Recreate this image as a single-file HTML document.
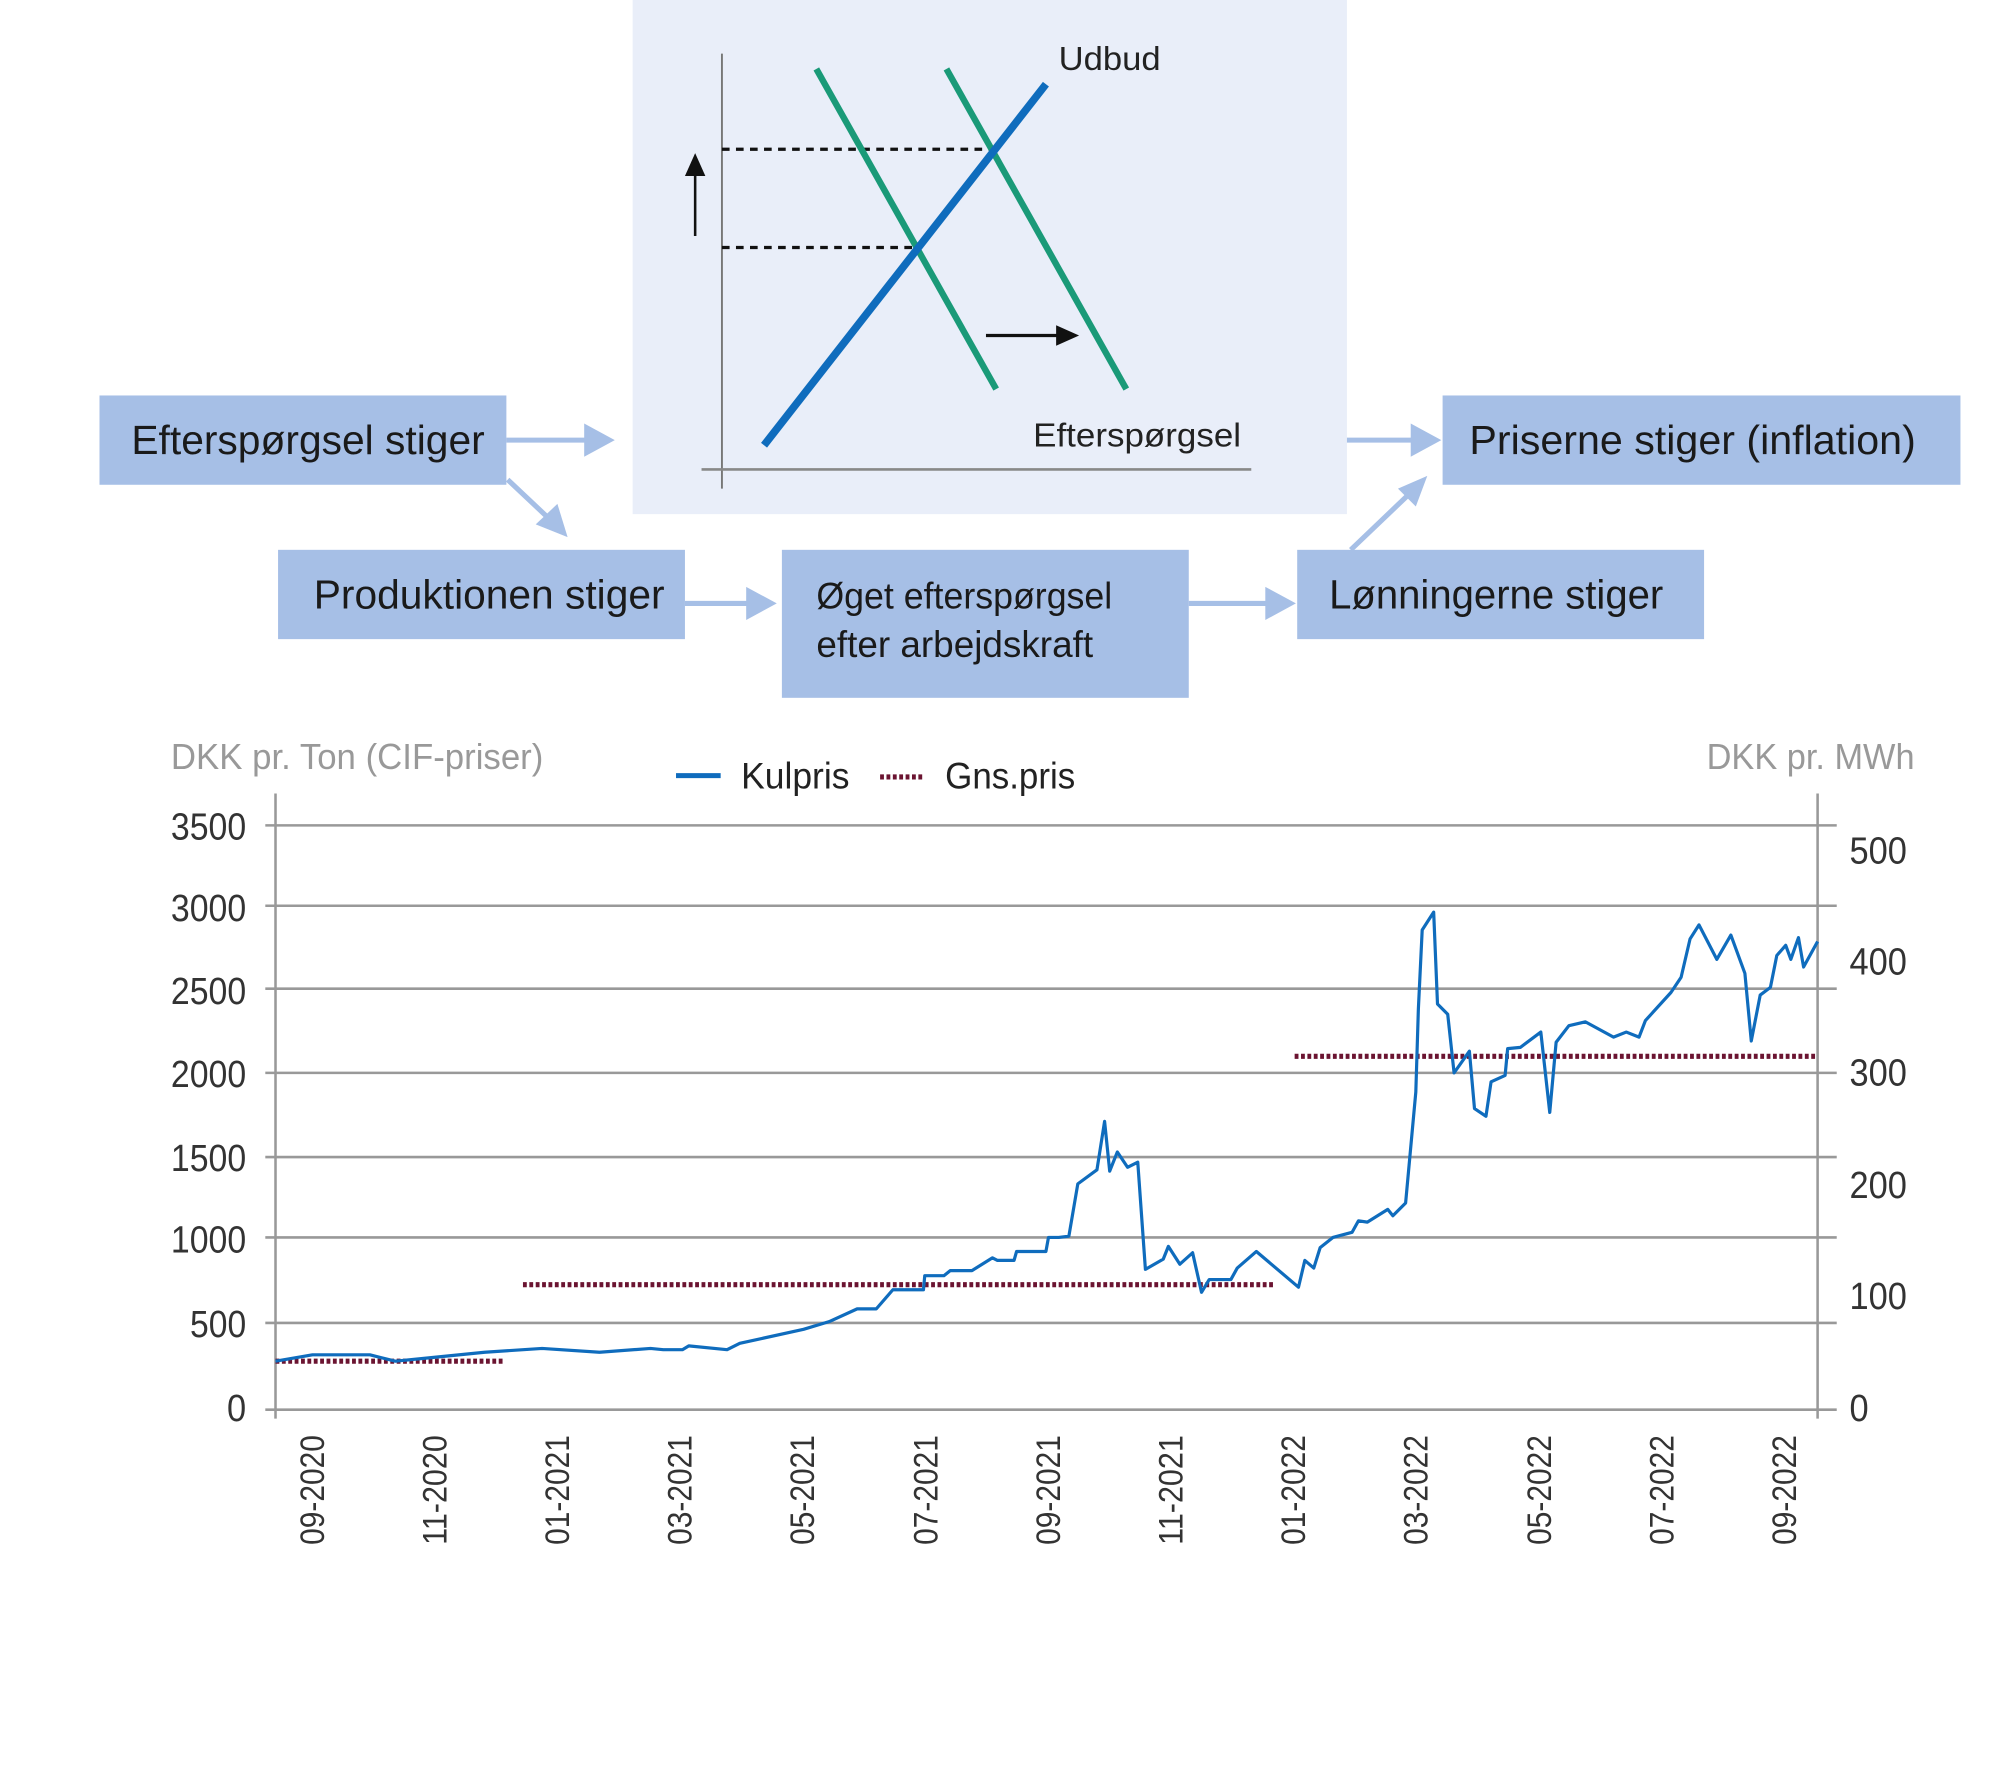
<!DOCTYPE html>
<html><head><meta charset="utf-8"><style>html,body{margin:0;padding:0;background:#fff}svg{display:block}</style></head>
<body>
<svg width="2000" height="1786" viewBox="0 0 1568 1400" preserveAspectRatio="none" xmlns="http://www.w3.org/2000/svg" font-family="Liberation Sans, sans-serif">
<rect width="1568" height="1400" fill="#fff"/>
<rect x="496" y="0" width="560" height="403" fill="#e9eef9"/>
<line x1="566" y1="42" x2="566" y2="383" stroke="#777" stroke-width="1.5"/>
<line x1="550" y1="368" x2="981" y2="368" stroke="#888" stroke-width="2"/>
<line x1="566" y1="117" x2="780" y2="117" stroke="#111" stroke-width="2.5" stroke-dasharray="6,5"/>
<line x1="566" y1="194" x2="718" y2="194" stroke="#111" stroke-width="2.5" stroke-dasharray="6,5"/>
<line x1="640" y1="54" x2="781" y2="305" stroke="#1a9a78" stroke-width="5"/>
<line x1="742" y1="54" x2="883" y2="305" stroke="#1a9a78" stroke-width="5"/>
<line x1="599" y1="349" x2="820" y2="66" stroke="#0f6cbd" stroke-width="6"/>
<line x1="545" y1="185" x2="545" y2="135" stroke="#111" stroke-width="2"/>
<polygon points="545,120 537,138 553,138" fill="#111"/>
<line x1="773" y1="263" x2="830" y2="263" stroke="#111" stroke-width="2.5"/>
<polygon points="846,263 828,255 828,271" fill="#111"/>
<text x="830" y="55" font-size="26" fill="#222" textLength="80" lengthAdjust="spacingAndGlyphs">Udbud</text>
<text x="810" y="350" font-size="26" fill="#222" textLength="163" lengthAdjust="spacingAndGlyphs">Efterspørgsel</text>
<g fill="#a6bfe6">
<rect x="78" y="310" width="319" height="70"/>
<rect x="1131" y="310" width="406" height="70"/>
<rect x="218" y="431" width="319" height="70"/>
<rect x="613" y="431" width="319" height="116"/>
<rect x="1017" y="431" width="319" height="70"/>
</g>
<g font-size="32" fill="#1a1a1a">
<text x="103" y="356" textLength="277" lengthAdjust="spacingAndGlyphs">Efterspørgsel stiger</text>
<text x="1152" y="356" textLength="350" lengthAdjust="spacingAndGlyphs">Priserne stiger (inflation)</text>
<text x="246" y="477" textLength="275" lengthAdjust="spacingAndGlyphs">Produktionen stiger</text>
<text x="1042" y="477" textLength="262" lengthAdjust="spacingAndGlyphs">Lønningerne stiger</text>
</g>
<g font-size="29" fill="#1a1a1a">
<text x="640" y="477" textLength="232" lengthAdjust="spacingAndGlyphs">Øget efterspørgsel</text>
<text x="640" y="515" textLength="217" lengthAdjust="spacingAndGlyphs">efter arbejdskraft</text>
</g>
<g stroke="#a6bfe6" stroke-width="4" fill="#a6bfe6">
<line x1="397" y1="345" x2="462" y2="345"/><polygon points="482,345 458,332 458,358" stroke="none"/>
<line x1="398" y1="376" x2="432" y2="408"/><polygon points="445,421 420,411 437,395" stroke="none"/>
<line x1="537" y1="473" x2="590" y2="473"/><polygon points="609,473 585,460 585,486" stroke="none"/>
<line x1="932" y1="473" x2="996" y2="473"/><polygon points="1016,473 992,460 992,486" stroke="none"/>
<line x1="1056" y1="345" x2="1110" y2="345"/><polygon points="1130,345 1106,332 1106,358" stroke="none"/>
<line x1="1059" y1="431" x2="1104" y2="388"/><polygon points="1119,373 1096,383 1110,397" stroke="none"/>
</g>
<text x="134" y="603" font-size="28" fill="#999" textLength="292" lengthAdjust="spacingAndGlyphs">DKK pr. Ton (CIF-priser)</text>
<text x="1501" y="603" font-size="28" fill="#999" text-anchor="end" textLength="163" lengthAdjust="spacingAndGlyphs">DKK pr. MWh</text>
<line x1="530" y1="608" x2="565" y2="608" stroke="#0f6cbd" stroke-width="4"/>
<text x="581" y="618" font-size="29" fill="#222" textLength="85" lengthAdjust="spacingAndGlyphs">Kulpris</text>
<line x1="690" y1="609" x2="725" y2="609" stroke="#6b1431" stroke-width="4" stroke-dasharray="3,2"/>
<text x="741" y="618" font-size="29" fill="#222" textLength="102" lengthAdjust="spacingAndGlyphs">Gns.pris</text>
<g stroke="#999" stroke-width="2">
<line x1="208" y1="647" x2="1440" y2="647"/>
<line x1="208" y1="710" x2="1440" y2="710"/>
<line x1="208" y1="775" x2="1440" y2="775"/>
<line x1="208" y1="841" x2="1440" y2="841"/>
<line x1="208" y1="907" x2="1440" y2="907"/>
<line x1="208" y1="970" x2="1440" y2="970"/>
<line x1="208" y1="1037" x2="1440" y2="1037"/>
<line x1="208" y1="1105" x2="1440" y2="1105"/>
<line x1="216" y1="622" x2="216" y2="1112"/>
<line x1="1425" y1="622" x2="1425" y2="1112"/>
</g>
<g font-size="30" fill="#333" text-anchor="end">
<text x="193" y="658" textLength="59" lengthAdjust="spacingAndGlyphs">3500</text>
<text x="193" y="722" textLength="59" lengthAdjust="spacingAndGlyphs">3000</text>
<text x="193" y="787" textLength="59" lengthAdjust="spacingAndGlyphs">2500</text>
<text x="193" y="852" textLength="59" lengthAdjust="spacingAndGlyphs">2000</text>
<text x="193" y="918" textLength="59" lengthAdjust="spacingAndGlyphs">1500</text>
<text x="193" y="982" textLength="59" lengthAdjust="spacingAndGlyphs">1000</text>
<text x="193" y="1048" textLength="44" lengthAdjust="spacingAndGlyphs">500</text>
<text x="193" y="1114" textLength="15" lengthAdjust="spacingAndGlyphs">0</text>
</g>
<g font-size="30" fill="#333">
<text x="1450" y="677" textLength="45" lengthAdjust="spacingAndGlyphs">500</text>
<text x="1450" y="764" textLength="45" lengthAdjust="spacingAndGlyphs">400</text>
<text x="1450" y="851" textLength="45" lengthAdjust="spacingAndGlyphs">300</text>
<text x="1450" y="939" textLength="45" lengthAdjust="spacingAndGlyphs">200</text>
<text x="1450" y="1026" textLength="45" lengthAdjust="spacingAndGlyphs">100</text>
<text x="1450" y="1114" textLength="15" lengthAdjust="spacingAndGlyphs">0</text>
</g>
<g font-size="27" fill="#333" text-anchor="end">
<text transform="translate(254,1125) rotate(-90)" textLength="86" lengthAdjust="spacingAndGlyphs">09-2020</text>
<text transform="translate(350,1125) rotate(-90)" textLength="86" lengthAdjust="spacingAndGlyphs">11-2020</text>
<text transform="translate(446,1125) rotate(-90)" textLength="86" lengthAdjust="spacingAndGlyphs">01-2021</text>
<text transform="translate(542,1125) rotate(-90)" textLength="86" lengthAdjust="spacingAndGlyphs">03-2021</text>
<text transform="translate(638,1125) rotate(-90)" textLength="86" lengthAdjust="spacingAndGlyphs">05-2021</text>
<text transform="translate(735,1125) rotate(-90)" textLength="86" lengthAdjust="spacingAndGlyphs">07-2021</text>
<text transform="translate(831,1125) rotate(-90)" textLength="86" lengthAdjust="spacingAndGlyphs">09-2021</text>
<text transform="translate(927,1125) rotate(-90)" textLength="86" lengthAdjust="spacingAndGlyphs">11-2021</text>
<text transform="translate(1023,1125) rotate(-90)" textLength="86" lengthAdjust="spacingAndGlyphs">01-2022</text>
<text transform="translate(1119,1125) rotate(-90)" textLength="86" lengthAdjust="spacingAndGlyphs">03-2022</text>
<text transform="translate(1216,1125) rotate(-90)" textLength="86" lengthAdjust="spacingAndGlyphs">05-2022</text>
<text transform="translate(1312,1125) rotate(-90)" textLength="86" lengthAdjust="spacingAndGlyphs">07-2022</text>
<text transform="translate(1408,1125) rotate(-90)" textLength="86" lengthAdjust="spacingAndGlyphs">09-2022</text>
</g>
<g stroke="#6b1431" stroke-width="4" stroke-dasharray="3,2">
<line x1="216" y1="1067" x2="395" y2="1067"/>
<line x1="410" y1="1007" x2="998" y2="1007"/>
<line x1="1015" y1="828" x2="1425" y2="828"/>
</g>
<polyline fill="none" stroke="#0f6cbd" stroke-width="2.5" stroke-linejoin="round" points="216,1067 245,1062 290,1062 310,1067 340,1064 380,1060 425,1057 470,1060 510,1057 520,1058 535,1058 540,1055 570,1058 580,1053 630,1042 650,1036 672,1026 687,1026 700,1011 724,1011 725,1000 740,1000 745,996 762,996 778,986 782,988 795,988 797,981 820,981 822,970 830,970 838,969 845,928 860,917 866,879 870,918 876,903 884,915 892,911 898,995 912,987 916,977 925,991 935,982 942,1013 948,1003 965,1003 970,994 985,981 1018,1009 1023,988 1030,994 1035,978 1045,970 1060,966 1065,957 1072,958 1088,948 1092,953 1102,943 1110,856 1112,791 1115,729 1124,715 1127,787 1135,795 1140,841 1152,824 1156,869 1165,875 1169,848 1180,843 1182,822 1192,821 1208,809 1215,872 1220,817 1230,804 1243,801 1265,813 1275,809 1285,813 1290,800 1310,778 1318,766 1325,736 1332,725 1346,752 1357,733 1368,763 1373,816 1380,780 1388,774 1393,749 1400,741 1404,752 1410,735 1414,758 1425,738"/>
</svg>
</body></html>
